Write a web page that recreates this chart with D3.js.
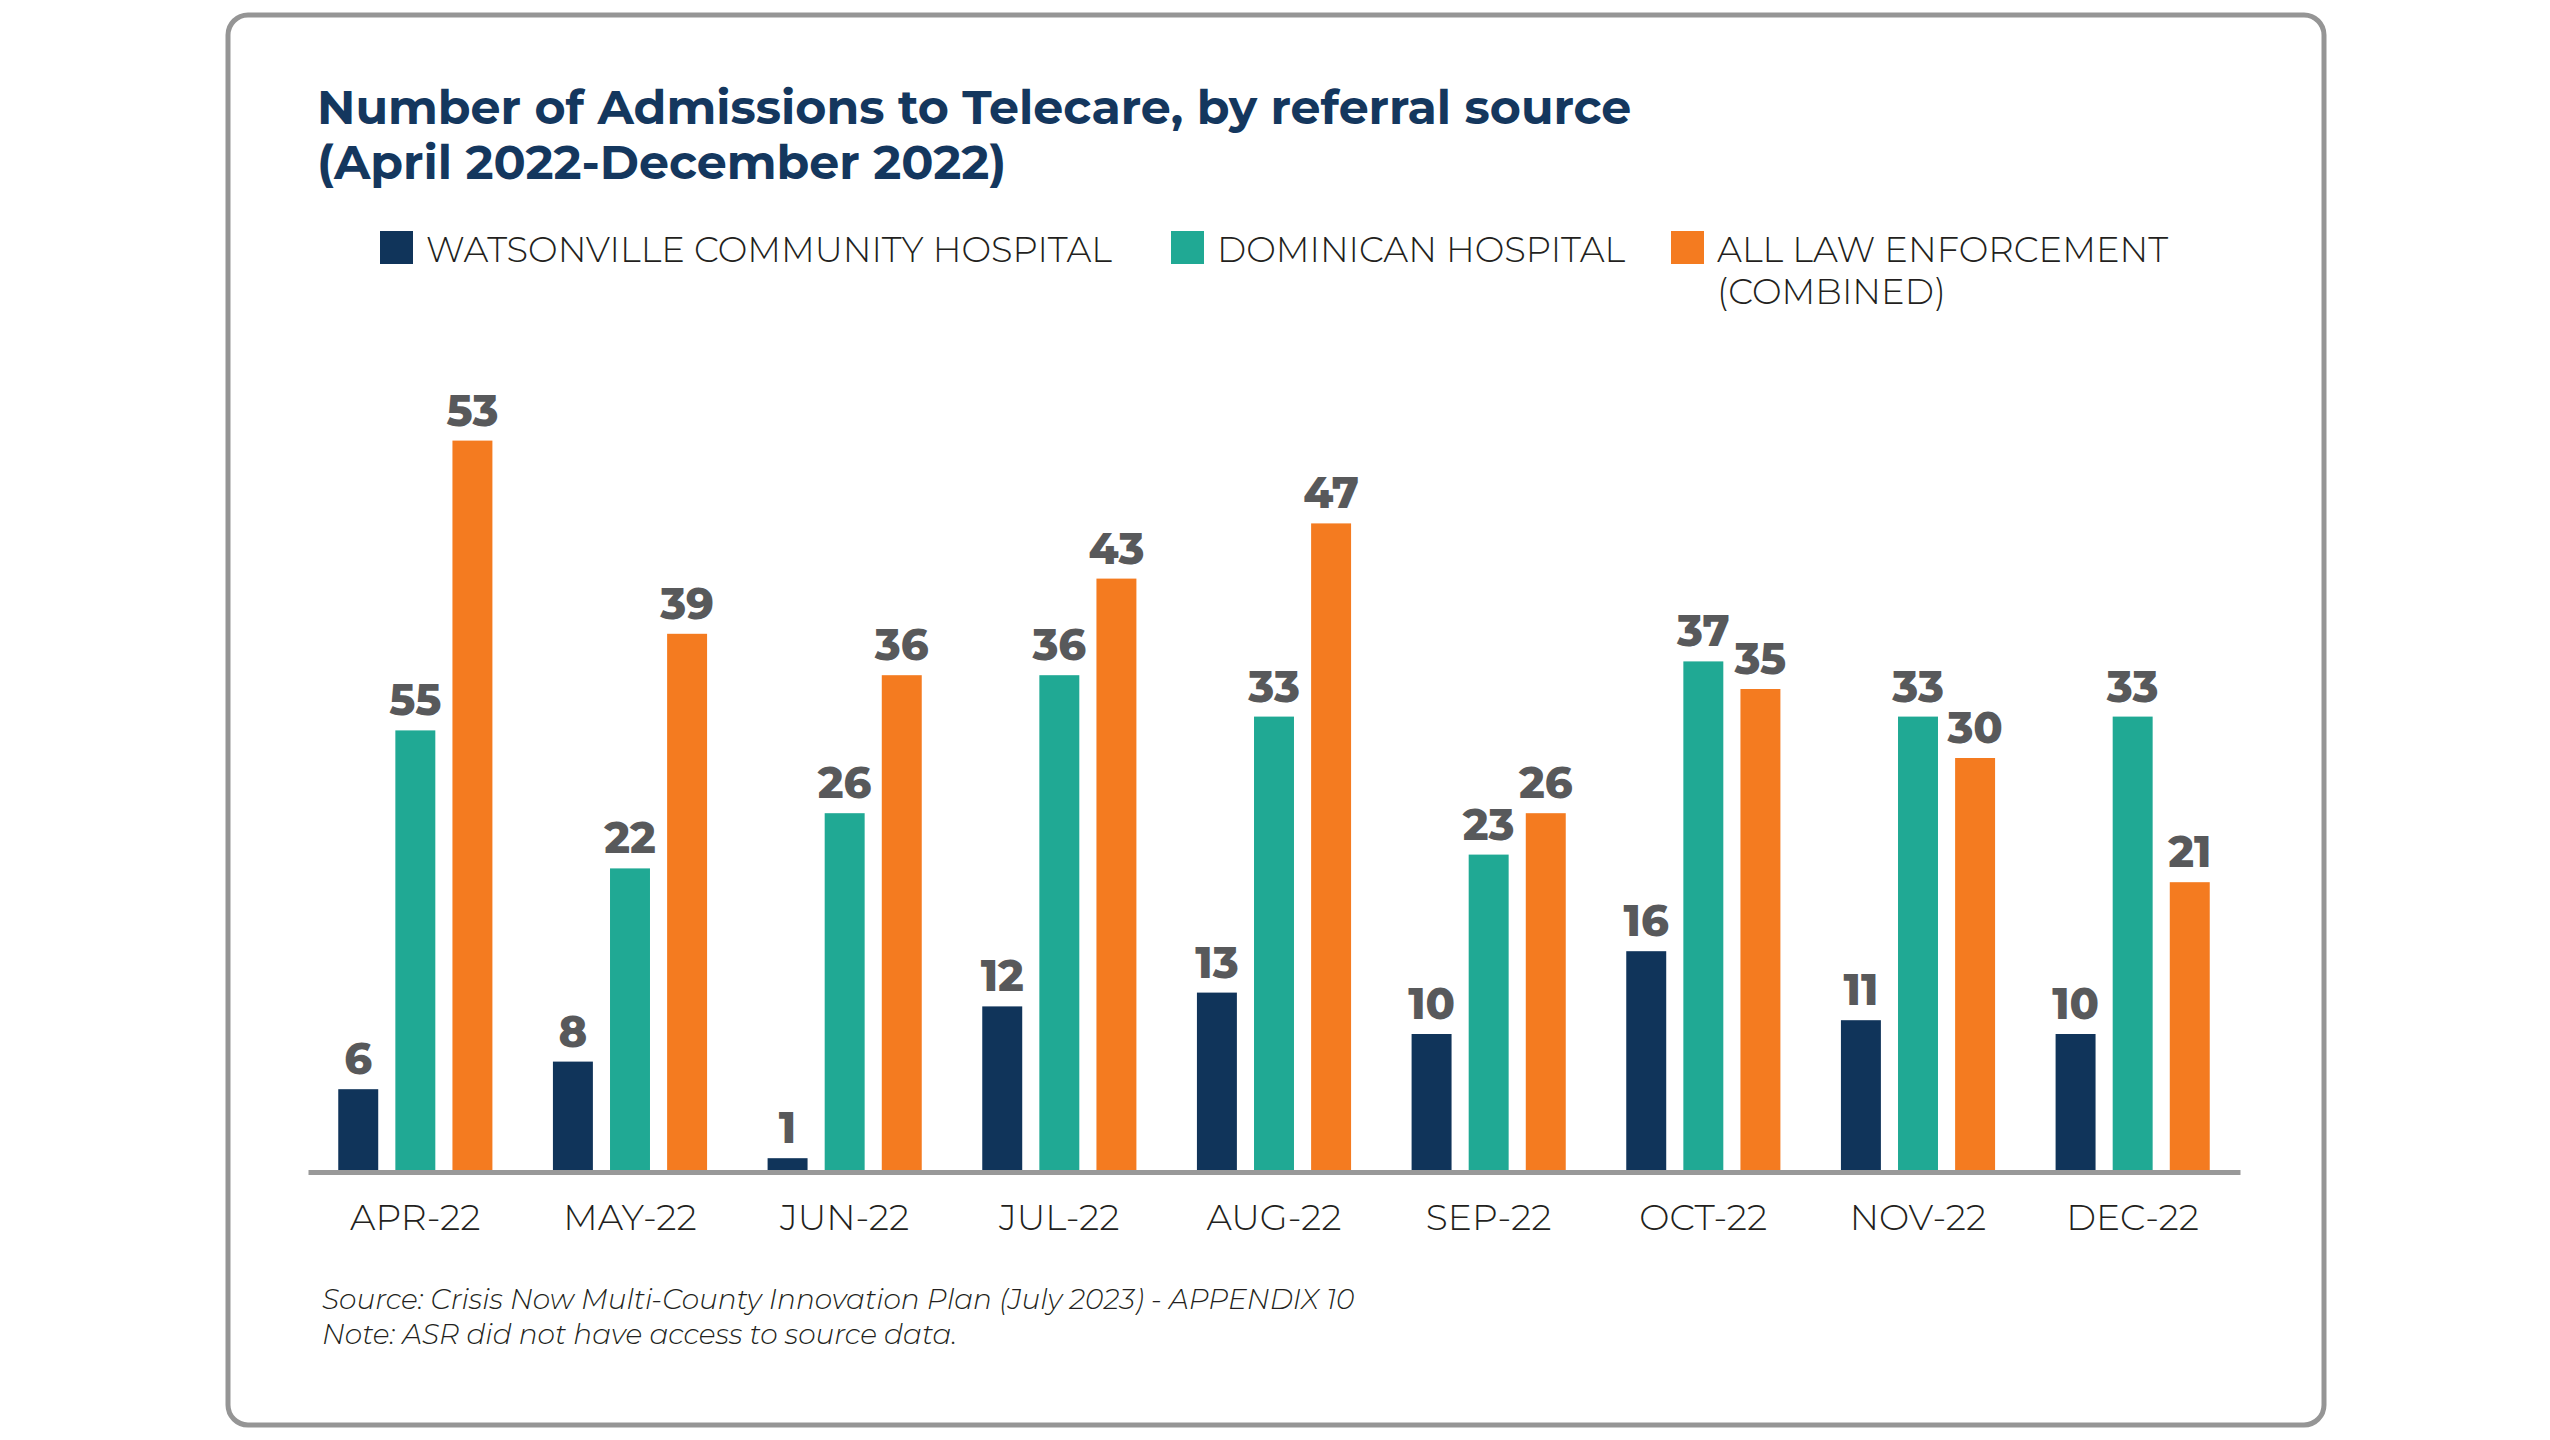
<!DOCTYPE html>
<html>
<head>
<meta charset="utf-8">
<script src="https://cdn.jsdelivr.net/npm/d3@7"></script>
<style>
  html, body { margin: 0; padding: 0; background: #ffffff; }
  svg text { font-family: "Montserrat", "Inter", "Open Sans", sans-serif; }
</style>
</head>
<body>
<div class="telecareChart"></div>
<script>
// Admissions to Telecare by referral source, Apr-Dec 2022
const months = ["APR-22", "MAY-22", "JUN-22", "JUL-22", "AUG-22", "SEP-22", "OCT-22", "NOV-22", "DEC-22"];
const seriesNames = ["WATSONVILLE COMMUNITY HOSPITAL", "DOMINICAN HOSPITAL", "ALL LAW ENFORCEMENT (COMBINED)"];
const watsonville = [6, 8, 1, 12, 13, 10, 16, 11, 10];
// bar heights as drawn; the APR-22 bar is drawn at ~32 but labelled 55 in the source
const dominican = [32, 22, 26, 36, 33, 23, 37, 33, 33];
const dominicanLabels = ["55", "22", "26", "36", "33", "23", "37", "33", "33"];
const lawEnforcement = [53, 39, 36, 43, 47, 26, 35, 30, 21];

const colors = ["#10345a", "#20a994", "#f47b20"];

const width = 2550, height = 1440;

let svg = d3.select(".telecareChart")
  .append("svg")
  .attr("width", width)
  .attr("height", height);

// frame
svg.append("rect")
  .attr("x", 228).attr("y", 15)
  .attr("width", 2096).attr("height", 1410)
  .attr("rx", 20)
  .attr("fill", "#fff")
  .attr("stroke", "#959595")
  .attr("stroke-width", 5);

// title
let title = svg.append("text")
  .attr("x", 317).attr("y", 124)
  .attr("fill", "#14375e")
  .style("font-size", "47.5px")
  .style("font-weight", 700);
title.append("tspan").attr("x", 317).text("Number of Admissions to Telecare, by referral source");
title.append("tspan").attr("x", 317).attr("dy", 55).text("(April 2022-December 2022)");

// legend
const legendX = [380, 1171, 1671];
let legend = svg.append("g").attr("class", "legend");
seriesNames.forEach((name, i) => {
  let g = legend.append("g").attr("transform", "translate(" + legendX[i] + ",231)");
  g.append("rect").attr("width", 33).attr("height", 33).attr("fill", colors[i]);
  let t = g.append("text")
    .attr("x", 46).attr("y", 31)
    .attr("fill", "#231f20")
    .style("font-size", "35.3px")
    .style("font-weight", 300);
  if (i === 2) {
    t.append("tspan").attr("x", 46).text("ALL LAW ENFORCEMENT");
    t.append("tspan").attr("x", 46).attr("dy", 42).text("(COMBINED)");
  } else {
    t.text(name);
  }
});

// scales
let x = d3.scaleBand()
  .domain(months)
  .range([308, 2240]);

let xInner = d3.scaleBand()
  .domain([0, 1, 2])
  .range([0, x.bandwidth()])
  .paddingInner(0.3)
  .paddingOuter(0.53);

let y = d3.scaleLinear()
  .domain([0, 60])
  .range([1172, 1172 - 60 * 13.8]);

let rows = months.map((m, i) => ({
  month: m,
  bars: [
    { s: 0, value: watsonville[i], label: String(watsonville[i]) },
    { s: 1, value: dominican[i], label: dominicanLabels[i] },
    { s: 2, value: lawEnforcement[i], label: String(lawEnforcement[i]) }
  ]
}));

let groups = svg.append("g").attr("class", "bars")
  .selectAll("g")
  .data(rows)
  .enter()
  .append("g")
  .attr("transform", d => "translate(" + x(d.month) + ",0)");

groups.selectAll("rect")
  .data(d => d.bars)
  .enter()
  .append("rect")
  .attr("x", d => xInner(d.s))
  .attr("y", d => y(d.value))
  .attr("width", xInner.bandwidth())
  .attr("height", d => y(0) - y(d.value))
  .attr("fill", d => colors[d.s]);

groups.selectAll("text")
  .data(d => d.bars)
  .enter()
  .append("text")
  .attr("x", d => xInner(d.s) + xInner.bandwidth() / 2)
  .attr("y", d => y(d.value) - 15)
  .attr("text-anchor", "middle")
  .attr("fill", "#58595b")
  .style("font-size", "43px")
  .style("font-weight", 800)
  .text(d => d.label);

// x axis
let xAxis = svg.append("g")
  .attr("class", "axis x")
  .attr("transform", "translate(0," + y(0) + ")")
  .call(d3.axisBottom(x).tickSize(0));
xAxis.select(".domain")
  .attr("stroke", "#999999")
  .attr("stroke-width", 5);
xAxis.selectAll("text")
  .attr("y", 58)
  .attr("dy", null)
  .attr("fill", "#231f20")
  .style("font-family", "\"Montserrat\", \"Inter\", sans-serif")
  .style("font-size", "36px")
  .style("font-weight", 300);

// footnote
let foot = svg.append("text")
  .attr("x", 322).attr("y", 1309)
  .attr("fill", "#231f20")
  .style("font-size", "28px")
  .style("font-style", "italic")
  .style("font-weight", 300);
foot.append("tspan").attr("x", 322).text("Source: Crisis Now Multi-County Innovation Plan (July 2023) - APPENDIX 10");
foot.append("tspan").attr("x", 322).attr("dy", 35).text("Note: ASR did not have access to source data.");
</script>
</body>
</html>
